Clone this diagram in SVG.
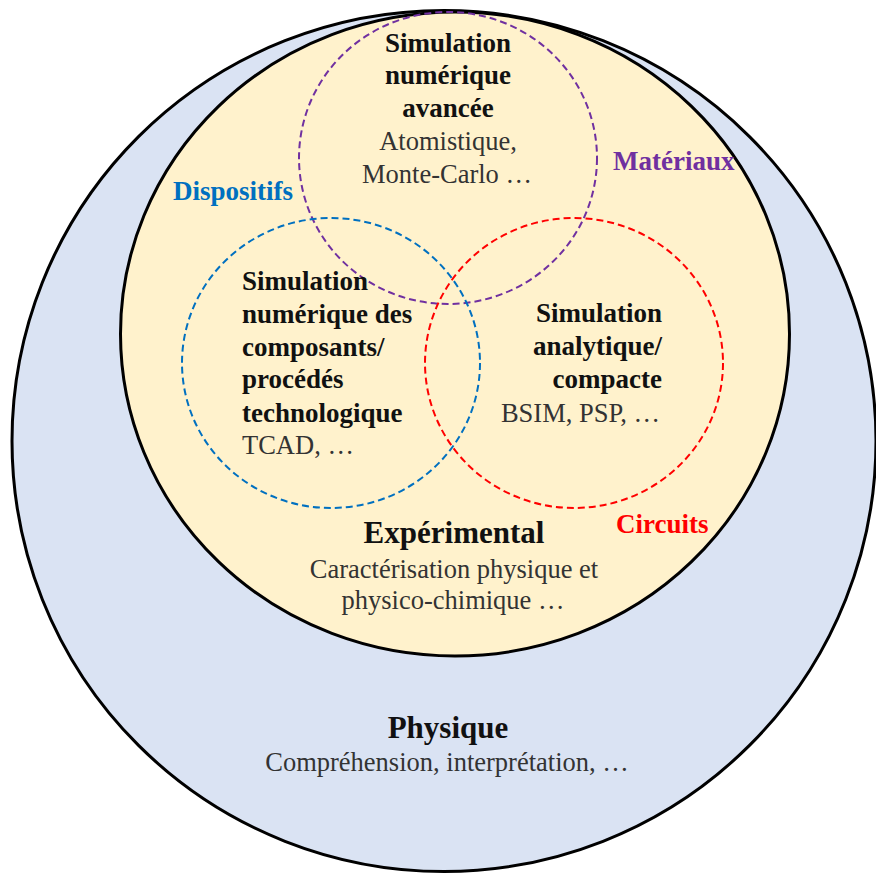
<svg xmlns="http://www.w3.org/2000/svg" width="876" height="873" viewBox="0 0 876 873">
<style>
.b{font-family:"Liberation Serif","Times New Roman",serif;font-weight:bold;font-size:27px;fill:#111}
.r{font-family:"Liberation Serif","Times New Roman",serif;font-size:26.5px;fill:#333}
.big{font-size:31px}
.m{text-anchor:middle}
.e{text-anchor:end}
.dash{fill:none;stroke-width:2;stroke-dasharray:7 4}
</style>
<rect width="876" height="873" fill="#fff"/>
<g id="physique">
<ellipse cx="444" cy="441" rx="432" ry="430.5" fill="#DAE3F3" stroke="#000" stroke-width="3"/>
<text class="b big m" x="448" y="738">Physique</text>
<text class="r m" x="447" y="771">Compréhension, interprétation, …</text>
</g>
<g id="experimental">
<ellipse cx="455" cy="334" rx="334.5" ry="322" fill="#FFF2CC" stroke="#000" stroke-width="3"/>
<text class="b big m" x="454" y="543">Expérimental</text>
<text class="r m" x="454" y="578">Caractérisation physique et</text>
<text class="r m" x="453" y="609">physico-chimique …</text>
</g>
<g id="materiaux">
<ellipse class="dash" cx="448" cy="158" rx="149" ry="146" stroke="#7030A0"/>
<text class="b m" x="448" y="52">Simulation</text>
<text class="b m" x="448" y="84">numérique</text>
<text class="b m" x="448" y="117">avancée</text>
<text class="r m" x="448" y="150">Atomistique,</text>
<text class="r m" x="447" y="183">Monte-Carlo …</text>
<text class="b" x="613" y="170" style="fill:#7030A0">Matériaux</text>
</g>
<g id="dispositifs">
<ellipse class="dash" cx="331" cy="363" rx="149" ry="145" stroke="#0070C0"/>
<text class="b" x="242" y="290">Simulation</text>
<text class="b" x="242" y="323">numérique des</text>
<text class="b" x="242" y="356">composants/</text>
<text class="b" x="242" y="388">procédés</text>
<text class="b" x="242" y="422">technologique</text>
<text class="r" x="242" y="454">TCAD, …</text>
<text class="b" x="173" y="200" style="fill:#0070C0">Dispositifs</text>
</g>
<g id="circuits">
<ellipse class="dash" cx="574" cy="363" rx="149" ry="145" stroke="#FF0000"/>
<text class="b e" x="662" y="322">Simulation</text>
<text class="b e" x="662" y="355">analytique/</text>
<text class="b e" x="662" y="388">compacte</text>
<text class="r e" x="660" y="422">BSIM, PSP, …</text>
<text class="b" x="616" y="533" style="fill:#FF0000">Circuits</text>
</g>
<g id="connectors"/>
</svg>
